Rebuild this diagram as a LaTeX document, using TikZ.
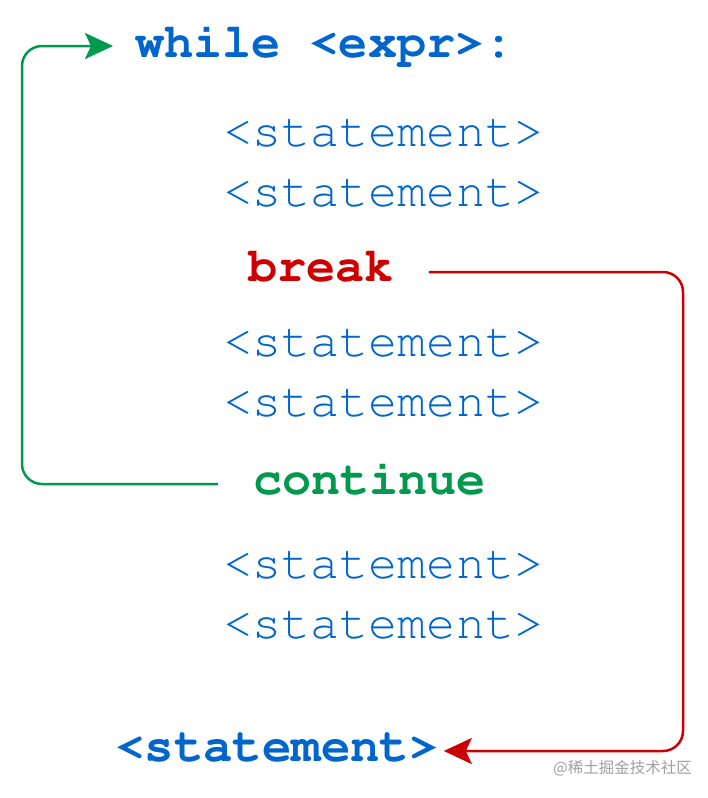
\documentclass[tikz,border=0pt]{standalone}
\usepackage[T1]{fontenc}
\usepackage{fontspec}
\newfontfamily\cjkfont{Noto Sans CJK SC}
\usepackage{xcolor}
\usetikzlibrary{arrows.meta, calc}
\definecolor{kwblue}{HTML}{0066CC}
\definecolor{brkred}{HTML}{CC0000}
\definecolor{contgreen}{HTML}{00994D}
\newcommand{\courierfont}{\fontencoding{T1}\fontfamily{pcr}\fontsize{48.5}{48.5}\selectfont}

\begin{document}
\begin{tikzpicture}[x=1pt, y=-1pt,
    code/.style={inner sep=0pt, anchor=west, text height=22pt, text depth=0pt,
        font=\courierfont, text=kwblue},
    keyword/.style={code, font=\courierfont\bfseries},
    jump/.style={line width=2.5pt, rounded corners=20pt,
        -{Stealth[length=28pt, width=26pt, inset=6pt]}}]
        \useasboundingbox (0,0) rectangle (708,798);

        % Loop header
        \node[keyword] (wh) at (135,46) {while <expr>:};

        % Loop body
        \node[code] (s1) at (223,135) {<statement>};
        \node[code] (s2) at (223,195) {<statement>};
        \node[keyword, text=brkred] (brk) at (248,270) {break};
        \node[code] (s3) at (223,345) {<statement>};
        \node[code] (s4) at (223,405) {<statement>};
        \node[keyword, text=contgreen] (cont) at (253,483) {continue};
        \node[code] (s5) at (223,567) {<statement>};
        \node[code] (s6) at (223,627) {<statement>};

        % First statement after the loop
        \node[keyword, font=\courierfont\fontsize{49}{49}\selectfont\bfseries] (after) at (115,750) {<statement>};

        % continue: back to the header
        \coordinate (headtip) at ([xshift=-22pt]wh.west);
        \draw[jump, contgreen] ([shift={(-35pt,-1pt)}]cont.west) -| (22,0 |- headtip) -- (headtip);

        % break: out of the loop
        \coordinate (aftertip) at ([shift={(5pt,-1pt)}]after.east);
        \draw[jump, brkred] ([shift={(35pt,-2pt)}]brk.east) -| (683,0 |- aftertip) -- (aftertip);

        % Watermark
        \node[anchor=west, inner sep=0pt, text=gray!75, font=\cjkfont\fontsize{15.5}{15.5}\selectfont]
            (mark) at (553,768) {@稀土掘金技术社区};
    \end{tikzpicture}
\end{document}
